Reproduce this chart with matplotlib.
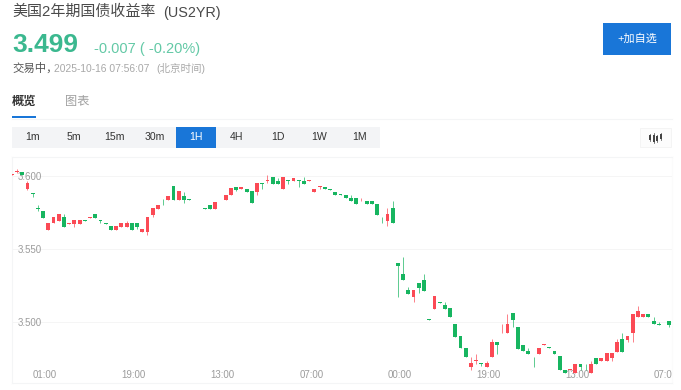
import numpy as np
import matplotlib
matplotlib.use("Agg")
import matplotlib.pyplot as plt
from matplotlib.patches import Rectangle

plt.rcParams['font.family'] = ['Liberation Sans', 'Noto Sans CJK SC', 'DejaVu Sans']

# ---- data ----
tick_values = [3.500, 3.550, 3.600]
time_labels = ["01:00", "19:00", "13:00", "07:00", "00:00", "19:00", "13:00", "07:00"]
time_index = [5, 22, 39, 56, 73, 90, 107, 124]
intervals = ["1m", "5m", "15m", "30m", "1H", "4H", "1D", "1W", "1M"]

opens = [3.6008,3.6028,3.6030,3.5909,3.5882,3.5784,3.5761,3.5633,3.5677,3.5695,3.5722,3.5674,3.5674,3.5674,3.5699,3.5715,
3.5741,3.5699,3.5679,3.5658,3.5633,3.5654,3.5654,3.5679,3.5677,3.5617,3.5615,3.5734,3.5777,3.5804,3.5836,3.5930,3.5836,
3.5863,3.5841,3.5804,3.5804,3.5782,3.5800,3.5775,3.5825,3.5836,3.5870,3.5927,3.5909,3.5911,3.5894,3.5891,3.5952,3.5966,
3.5991,3.5968,3.5909,3.5971,3.5966,3.5971,3.5968,3.5966,3.5889,3.5925,3.5927,3.5911,3.5891,3.5875,3.5873,3.5852,3.5852,
3.5834,3.5832,3.5832,3.5811,3.5702,3.5695,3.5779,
3.5406,3.5329,3.5219,3.5172,3.5270,3.5288,3.5021,3.5092,3.5137,3.5117,3.5094,3.4989,3.4905,3.4823,3.4690,3.4734,3.4718,
3.4690,3.4761,3.4866,3.4964,3.4923,3.5060,3.4966,3.4843,3.4802,
3.4742,3.4784,3.4843,3.4827,3.4802,3.4768,3.4672,3.4672,3.4651,3.4715,3.4674,3.4651,3.4756,3.4733,3.4733,3.4754,3.4797,
3.4884,3.4879,3.4923,3.5034,3.5034,3.5057,3.5007,3.4986,3.4968,3.5007]
closes = [3.6012,3.6034,3.6005,3.5950,3.5877,3.5777,3.5715,3.5677,3.5718,3.5741,3.5654,3.5679,3.5699,3.5699,3.5695,3.5720,
3.5715,3.5695,3.5674,3.5633,3.5658,3.5677,3.5677,3.5633,3.5652,3.5638,3.5720,3.5779,3.5800,3.5800,3.5863,3.5836,3.5896,
3.5836,3.5836,3.5800,3.5800,3.5777,3.5777,3.5820,3.5820,3.5873,3.5916,3.5905,3.5927,3.5891,3.5818,3.5950,3.5948,3.5973,
3.5946,3.5946,3.5991,3.5966,3.5989,3.5966,3.5946,3.5971,3.5911,3.5930,3.5909,3.5907,3.5868,3.5870,3.5848,3.5827,3.5807,
3.5839,3.5809,3.5809,3.5736,3.5697,3.5741,3.5677,
3.5386,3.5288,3.5194,3.5219,3.5233,3.5215,3.5016,3.5176,3.5133,3.5092,3.5035,3.4900,3.4820,3.4763,3.4718,3.4738,3.4713,
3.4718,3.4866,3.4841,3.4969,3.4987,3.5014,3.4818,3.4798,3.4784,
3.4738,3.4825,3.4847,3.4822,3.4784,3.4672,3.4651,3.4676,3.4715,3.4690,3.4670,3.4715,3.4713,3.4754,3.4788,3.4786,3.4866,
3.4797,3.4904,3.5057,3.5073,3.5057,3.5034,3.4984,3.4982,3.4964,3.4982]
highs = [3.6012,3.6046,3.6030,3.5966,3.5882,3.5802,3.5761,3.5677,3.5718,3.5741,3.5738,3.5679,3.5699,3.5699,3.5699,3.5720,
3.5741,3.5699,3.5679,3.5658,3.5658,3.5677,3.5695,3.5679,3.5677,3.5638,3.5720,3.5779,3.5800,3.5841,3.5863,3.5930,3.5896,
3.5891,3.5841,3.5804,3.5804,3.5782,3.5800,3.5820,3.5825,3.5873,3.5916,3.5927,3.5927,3.5911,3.5894,3.5950,3.5952,3.6010,
3.5991,3.5984,3.5991,3.5971,3.5989,3.5971,3.5991,3.5971,3.5911,3.5930,3.5927,3.5911,3.5891,3.5875,3.5873,3.5868,3.5852,
3.5848,3.5832,3.5832,3.5811,3.5718,3.5779,3.5827,
3.5406,3.5447,3.5238,3.5219,3.5270,3.5329,3.5021,3.5176,3.5137,3.5140,3.5094,3.4989,3.4905,3.4823,3.4763,3.4782,3.4718,
3.4736,3.4882,3.4866,3.4987,3.5055,3.5060,3.4966,3.4843,3.4820,
3.4763,3.4825,3.4847,3.4827,3.4802,3.4768,3.4672,3.4676,3.4715,3.4715,3.4713,3.4731,3.4756,3.4754,3.4788,3.4786,3.4882,
3.4923,3.4904,3.5057,3.5112,3.5057,3.5057,3.5032,3.5002,3.4968,3.5007]
lows = [3.6008,3.6019,3.6005,3.5905,3.5859,3.5757,3.5715,3.5633,3.5677,3.5695,3.5654,3.5674,3.5654,3.5674,3.5695,3.5715,
3.5715,3.5677,3.5674,3.5633,3.5633,3.5654,3.5654,3.5633,3.5636,3.5617,3.5599,3.5718,3.5777,3.5800,3.5836,3.5836,3.5836,
3.5818,3.5836,3.5800,3.5800,3.5777,3.5777,3.5775,3.5820,3.5836,3.5870,3.5894,3.5909,3.5891,3.5818,3.5870,3.5911,3.5950,
3.5946,3.5946,3.5909,3.5946,3.5966,3.5927,3.5946,3.5966,3.5889,3.5911,3.5909,3.5907,3.5868,3.5870,3.5848,3.5827,3.5807,
3.5827,3.5809,3.5809,3.5736,3.5677,3.5658,3.5677,
3.5174,3.5288,3.5194,3.5135,3.5197,3.5215,3.5016,3.5092,3.5133,3.5092,3.5035,3.4900,3.4820,3.4763,3.4672,3.4713,3.4697,
3.4690,3.4761,3.4782,3.4928,3.4923,3.4969,3.4818,3.4798,3.4784,
3.4695,3.4784,3.4843,3.4822,3.4784,3.4672,3.4651,3.4672,3.4651,3.4672,3.4670,3.4651,3.4713,3.4733,3.4733,3.4731,3.4797,
3.4797,3.4866,3.4861,3.5034,3.5034,3.5034,3.4984,3.4982,3.4964,3.4966]

W, H = 681, 390
BLUE = "#1976d8"
UP = "#fb4a55"
DOWN = "#17b560"
LINE = "#f4f5f6"

fig = plt.figure(figsize=(W / 100, H / 100), dpi=100, facecolor="white")

# page chrome, addressed in image pixels
ui = fig.add_axes([0, 0, 1, 1])
ui.set_xlim(0, W)
ui.set_ylim(H, 0)
ui.axis("off")

def label(x, y, s, size, color, weight="normal", ha="left"):
    ui.text(x, y, s, fontsize=size, color=color, fontweight=weight, ha=ha, va="center")

label(12, 12, "美国2年期国债收益率", 10.8, "#4a4a4a")
label(163, 12.5, "(US2YR)", 10.4, "#4a4a4a")
label(12, 45, "3.499", 19, "#3bb88f", "bold")
label(94, 48.5, "-0.007 ( -0.20%)", 10.5, "#63c9a6")
label(12, 68, "交易中，", 8.2, "#555555")
label(54, 68.5, "2025-10-16 07:56:07", 7.4, "#a8a8a8")
label(156, 68, "(北京时间)", 7.6, "#a8a8a8")
label(12, 102, "概览", 8.8, "#333333", "bold")
label(65, 102, "图表", 8.8, "#a0a0a0")
ui.add_patch(Rectangle((12, 116), 24, 2, fc=BLUE, ec="none"))
ui.plot([12, 672], [118.5, 118.5], color=LINE, lw=0.8)

ui.add_patch(Rectangle((603, 23), 68, 32, fc=BLUE, ec="none"))
label(637.5, 38.5, "+加自选", 8.0, "#ffffff", ha="center")

ui.add_patch(Rectangle((12, 127), 368, 21, fc="#f3f4f6", ec="none"))
ui.add_patch(Rectangle((176, 127), 40, 21, fc=BLUE, ec="none"))
for k, name in enumerate(intervals):
    cx = 32.5 + 40.9 * k
    label(cx, 137.5, name, 7.6, "#ffffff" if name == "1H" else "#333333", ha="center")

ui.add_patch(Rectangle((640, 128), 31, 19, fc="#fcfcfc", ec="#f3f3f3", lw=0.6))
for ix, y0, h0 in [(650, 135, 5), (653.5, 134.5, 7), (657, 136, 5), (660.5, 134, 5)]:
    ui.add_patch(Rectangle((ix - 1, y0), 2.2, h0, fc="#444444", ec="none"))
    ui.plot([ix + 0.1, ix + 0.1], [y0 - 1.5, y0 + h0 + 1.2], color="#444444", lw=0.5)

# candlestick panel: pixels 12..672 horizontally, 157..383 vertically
PX_STEP = 5.218
ax = fig.add_axes([12 / W, 1 - 383 / H, 660 / W, 226 / H])
ax.patch.set_alpha(0)
ax.set_xlim(-5 / PX_STEP, 655 / PX_STEP)
ax.set_ylim(3.6 - 207 / 1460, 3.6 + 19 / 1460)

for s in ax.spines.values():
    s.set_color(LINE)
    s.set_linewidth(0.8)
ax.spines["right"].set_color("#fbfbfb")

ax.set_yticks(tick_values)
ax.set_yticklabels([f"{v:.3f}" for v in tick_values], ha="left")
ax.tick_params(axis="y", length=0, pad=-4, labelsize=7.0, labelcolor="#9c9c9c")
ax.grid(axis="y", color="#f5f5f5", lw=0.7)
ax.set_axisbelow(True)

ax.set_xticks([i + 0.4 for i in time_index])
ax.set_xticklabels(time_labels)
ax.tick_params(axis="x", length=0, pad=-9, labelsize=7.0, labelcolor="#9c9c9c")
for t in ax.get_xticklabels():
    t.set_clip_on(True)
    t.set_clip_box(ax.bbox)

o = np.array(opens)
c = np.array(closes)
hi = np.array(highs)
lo = np.array(lows)
x = np.arange(len(o)) - 1
colors = [UP if a >= b else DOWN for a, b in zip(c, o)]
ax.vlines(x, lo, hi, colors=colors, lw=0.7, alpha=0.7, zorder=3)
ax.bar(x, np.abs(c - o), bottom=np.minimum(o, c), width=0.74, color=colors,
       linewidth=0, zorder=4)

fig.savefig("out.png", dpi=100, facecolor="white")
